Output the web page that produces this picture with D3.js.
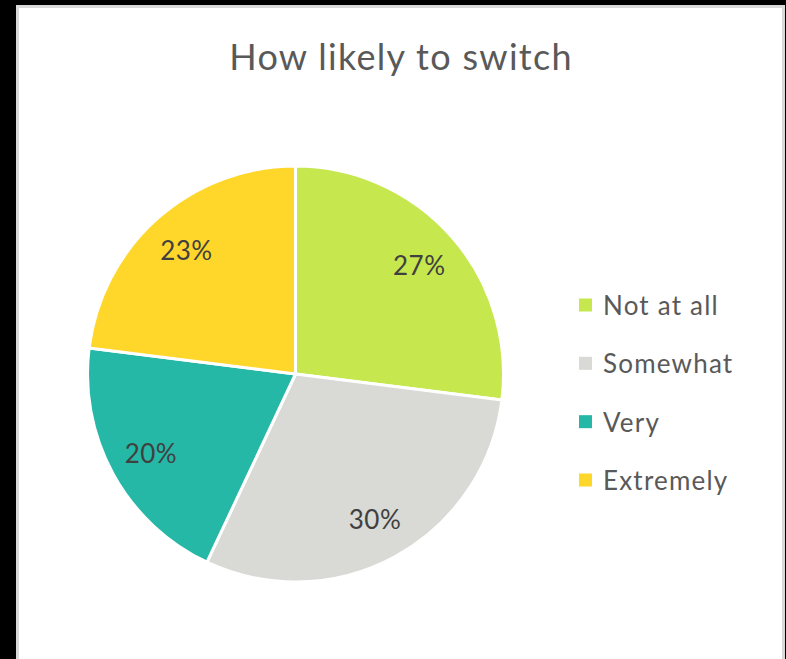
<!DOCTYPE html>
<html>
<head>
<meta charset="utf-8">
<script src="https://cdn.jsdelivr.net/npm/d3@7"></script>
<style>
  html, body { margin: 0; padding: 0; background: #000; }
  svg { display: block; }
</style>
</head>
<body>
<svg id="chart" width="786" height="659"></svg>
<script>
const categories = ["Not at all", "Somewhat", "Very", "Extremely"];
const values = [27, 30, 20, 23];
const colors = ["#C6E84E", "#D9D9D6", "#26B8A6", "#FFD72B"];
const title = "How likely to switch";

const svg = d3.select("#chart");
const W = 786, H = 659;
const font = "Lato, 'Open Sans', sans-serif";

svg.append("rect").attr("x", 0).attr("y", 0).attr("width", W).attr("height", H).attr("fill", "#000");
svg.append("rect").attr("x", 17.5).attr("y", 6.5).attr("width", 766).attr("height", 660)
  .attr("fill", "#fff").attr("stroke", "#d9d9d9").attr("stroke-width", 3);

svg.append("text").attr("x", 401).attr("y", 70).attr("text-anchor", "middle")
  .attr("font-family", font).attr("font-size", 36).attr("letter-spacing", 1.3)
  .attr("fill", "#595959").text(title);

const cx = 295.5, cy = 374, R = 208;
const g = svg.append("g").attr("transform", `translate(${cx},${cy})`);
const pie = d3.pie().sort(null).value(d => d)(values);
const arc = d3.arc().innerRadius(0).outerRadius(R);
const labelArc = d3.arc().innerRadius(165).outerRadius(165);

g.selectAll("path.slice").data(pie).join("path")
  .attr("class", "slice")
  .attr("d", arc)
  .attr("fill", (d, i) => colors[i])
  .attr("stroke", "#fff").attr("stroke-width", 3).attr("stroke-linejoin", "round");

g.selectAll("text.lbl").data(pie).join("text")
  .attr("class", "lbl")
  .attr("transform", d => `translate(${labelArc.centroid(d)})`)
  .attr("text-anchor", "middle").attr("dominant-baseline", "central")
  .attr("font-family", font).attr("font-size", 26).attr("letter-spacing", 0.5).attr("fill", "#404040")
  .text(d => d.data + "%");

const ly = d3.scalePoint().domain(categories).range([305, 480]);
const leg = svg.append("g");
categories.forEach((c, i) => {
  leg.append("rect").attr("x", 579).attr("y", ly(c) - 6.5).attr("width", 13).attr("height", 13).attr("fill", colors[i]);
  leg.append("text").attr("x", 603).attr("y", ly(c)).attr("dominant-baseline", "central")
    .attr("font-family", font).attr("font-size", 26).attr("letter-spacing", 1.2)
    .attr("fill", "#595959").text(c);
});
</script>
</body>
</html>
